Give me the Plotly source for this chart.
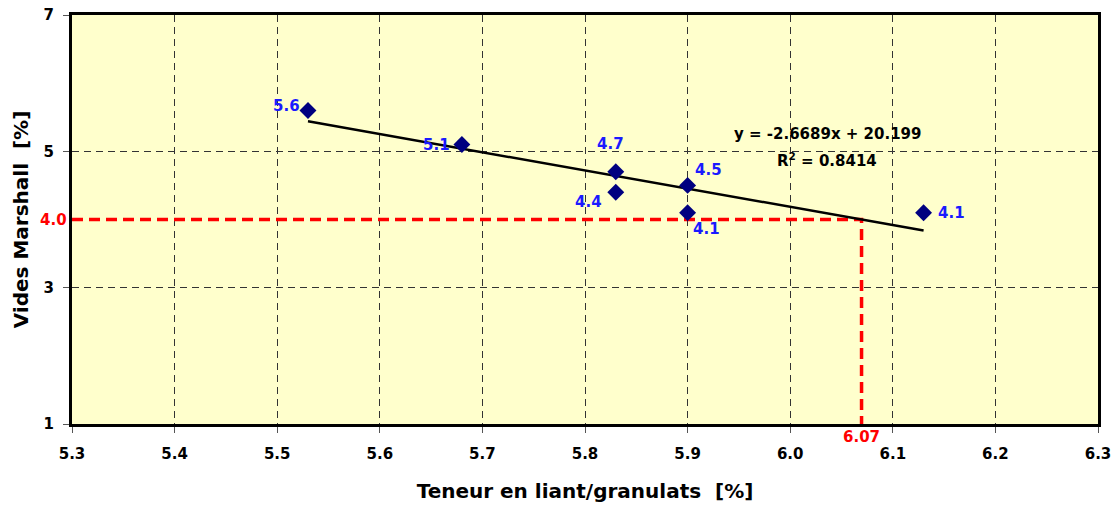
import plotly.graph_objects as go

# Binder content vs Marshall voids
binder = [5.53, 5.68, 5.83, 5.83, 5.90, 5.90, 6.13]
voids = [5.6, 5.1, 4.7, 4.4, 4.5, 4.1, 4.1]
# label offsets (px) for each point label
label_dx = [-21, -25, -5, -27, 21, 19, 28]
label_dy = [-4, 0, -28, 10, -15, 16, 0]

# linear trend reported on the chart
slope = -2.6689
intercept = 20.199
r2 = 0.8414
trend_x = [min(binder), max(binder)]
trend_y = [slope * x + intercept for x in trend_x]

# target voids and matching binder content
target_voids = 4.0
target_binder = (target_voids - intercept) / slope

x_ticks = [5.3, 5.4, 5.5, 5.6, 5.7, 5.8, 5.9, 6.0, 6.1, 6.2, 6.3]
y_ticks = [1, 3, 5, 7]
x_range = [5.3, 6.3]
y_range = [1, 7]

FONT = "DejaVu Sans, sans-serif"


def bold(s):
    return f"<b>{s}</b>"


fig = go.Figure()

# red guide lines for the target
fig.add_trace(go.Scatter(
    x=[x_range[0], target_binder, target_binder],
    y=[target_voids, target_voids, y_range[0]],
    mode="lines",
    line=dict(color="#FF0000", width=3.5, dash="11px,6px"),
    hoverinfo="skip", showlegend=False,
))

# trend line
fig.add_trace(go.Scatter(
    x=trend_x, y=trend_y, mode="lines",
    line=dict(color="black", width=2.5),
    hoverinfo="skip", showlegend=False,
))

# measured points
fig.add_trace(go.Scatter(
    x=binder, y=voids, mode="markers",
    marker=dict(symbol="diamond", size=13, color="#000080"),
    showlegend=False,
))

annotations = []
for x, y, dx, dy in zip(binder, voids, label_dx, label_dy):
    annotations.append(dict(
        x=x, y=y, xref="x", yref="y", text=bold(f"{y:.1f}"), showarrow=False,
        xshift=dx, yshift=-dy,
        font=dict(family=FONT, size=15, color="#1A1AFF"),
    ))

# regression equation
annotations.append(dict(
    x=6.036, y=5.26, xref="x", yref="y", showarrow=False,
    text=bold(f"y = {slope:.4f}x + {intercept:.3f}"),
    font=dict(family=FONT, size=15, color="black"),
))
annotations.append(dict(
    x=6.036, y=4.87, xref="x", yref="y", showarrow=False,
    text=bold(f"R<sup>2</sup> = {r2:.4f}"),
    font=dict(family=FONT, size=15, color="black"),
))

# red labels for the target values
annotations.append(dict(
    x=0, y=target_voids, xref="paper", yref="y", showarrow=False,
    xanchor="right", xshift=-3, text=bold(f"{target_voids:.1f}"),
    font=dict(family=FONT, size=15, color="#FF0000"),
))
annotations.append(dict(
    x=target_binder, y=0, xref="x", yref="paper", showarrow=False,
    yanchor="middle", yshift=-13, text=bold(f"{target_binder:.2f}"),
    font=dict(family=FONT, size=15, color="#FF0000"),
))

fig.update_layout(
    width=1118, height=508,
    margin=dict(l=72, r=20, t=15, b=84, autoexpand=False),
    paper_bgcolor="white",
    plot_bgcolor="#FFFFCC",
    annotations=annotations,
    xaxis=dict(
        range=x_range, tickvals=x_ticks,
        ticktext=[bold(f"{v:.1f}") for v in x_ticks],
        showline=True, mirror=True, linecolor="black", linewidth=3,
        ticks="outside", ticklen=6, tickcolor="#555555", tickwidth=1,
        showgrid=True, gridcolor="#333333", gridwidth=1, griddash="7px,5px",
        zeroline=False, ticklabelstandoff=8, automargin=False,
        tickfont=dict(family=FONT, size=15, color="black"),
        title=dict(text=bold("Teneur en liant/granulats  [%]"), standoff=22,
                   font=dict(family=FONT, size=20, color="black")),
    ),
    yaxis=dict(
        range=y_range, tickvals=y_ticks,
        ticktext=[bold(f"{v}") for v in y_ticks],
        showline=True, mirror=True, linecolor="black", linewidth=3,
        ticks="outside", ticklen=6, tickcolor="#555555", tickwidth=1,
        showgrid=True, gridcolor="#333333", gridwidth=1, griddash="7px,5px",
        zeroline=False, ticklabelstandoff=6, automargin=False,
        tickfont=dict(family=FONT, size=15, color="black"),
        title=dict(text=bold("Vides Marshall  [%]"), standoff=10,
                   font=dict(family=FONT, size=20, color="black")),
    ),
)

fig.write_html("out.html")
